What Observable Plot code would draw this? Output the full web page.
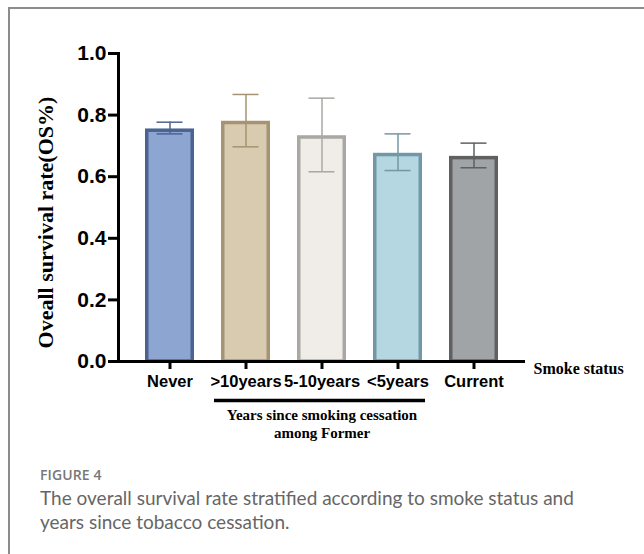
<!DOCTYPE html>
<html>
<head>
<meta charset="utf-8">
<script src="https://cdn.jsdelivr.net/npm/d3@7"></script>
<script src="https://cdn.jsdelivr.net/npm/@observablehq/plot@0.6"></script>
<style>
  html, body { margin: 0; padding: 0; background: #fff; }
  #page { position: relative; width: 644px; height: 554px; overflow: hidden; background: #fff; }
  #card { position: absolute; left: 8px; top: 7px; right: -4px; bottom: -4px;
          border-left: 2px solid #8c8c8c; border-top: 2px solid #8c8c8c; }
  #chart { position: absolute; left: 0; top: 0; }
  #fig { position: absolute; left: 40px; top: 465px; font-family: "Open Sans", Lato, sans-serif;
         font-size: 14px; font-weight: 600; color: #777; letter-spacing: 0.1px; }
  #cap { position: absolute; left: 40px; top: 486px; width: 548px; font-family: Lato, "Open Sans", sans-serif;
         font-size: 19px; line-height: 24px; color: #666; }
</style>
</head>
<body>
<div id="page">
  <div id="card"></div>
  <div id="chart"></div>
  <div id="fig">FIGURE 4</div>
  <div id="cap">The overall survival rate stratified according to smoke status and years since tobacco cessation.</div>
</div>
<script>
// Overall survival by smoking status, with error bars
const categories = ["Never", ">10years", "5-10years", "<5years", "Current"];
const survival   = [0.755, 0.78, 0.733, 0.676, 0.666];
const errLow     = [0.739, 0.697, 0.616, 0.620, 0.629];
const errHigh    = [0.777, 0.867, 0.855, 0.739, 0.709];
const fills      = ["#8da6d1", "#d9cbb0", "#f0ede8", "#b4d7e1", "#a1a4a7"];
const strokes    = ["#4a6393", "#a59371", "#aaa8a4", "#7398a5", "#5e6062"];
const yTicks     = [0, 0.2, 0.4, 0.6, 0.8, 1.0];

const rows = categories.map((c, i) => ({
  cat: c, v: survival[i], lo: errLow[i], hi: errHigh[i], fill: fills[i], stroke: strokes[i]
}));

const sans = "'Liberation Sans', Arial, sans-serif";
const serif = "'Liberation Serif', 'Times New Roman', serif";

const chart = Plot.plot({
  width: 644,
  height: 450,
  marginLeft: 118,
  marginRight: 119,
  marginTop: 53,
  marginBottom: 89,
  style: { background: "transparent", overflow: "visible" },
  x: { domain: categories, padding: 0.355, label: null },
  y: { domain: [0, 1], label: null },
  marks: [
    Plot.barY(rows, {
      x: "cat", y: "v", fill: "fill", stroke: "stroke", strokeWidth: 3.5,
      insetLeft: 1.75, insetRight: 1.75, insetTop: 1.75
    }),
    Plot.ruleX(rows, { x: "cat", y1: "lo", y2: "hi", stroke: "stroke", strokeWidth: 1.5 }),
    Plot.tickY(rows, { x: "cat", y: "lo", stroke: "stroke", strokeWidth: 1.5, insetLeft: 11.5, insetRight: 11.5 }),
    Plot.tickY(rows, { x: "cat", y: "hi", stroke: "stroke", strokeWidth: 1.5, insetLeft: 11.5, insetRight: 11.5 }),
    Plot.frame({ anchor: "left", stroke: "#000", strokeWidth: 3 }),
    Plot.ruleY([0], { stroke: "#000", strokeWidth: 3 }),
    Plot.axisY({
      ticks: yTicks, tickSize: 10, tickPadding: 2, strokeWidth: 3,
      tickFormat: d3.format(".1f"), fontSize: 21, fontWeight: "bold", fontFamily: sans, fill: "#000", label: null
    }),
    Plot.axisX({
      tickSize: 8, tickPadding: 6, strokeWidth: 3,
      fontSize: 16.5, fontWeight: "bold", fontFamily: sans, fill: "#000", label: null
    }),
    Plot.text(["Oveall survival rate(OS%)"], {
      frameAnchor: "left", textAnchor: "middle", rotate: -90, dx: -73, dy: 15,
      fontSize: 22, fontWeight: "bold", fontFamily: serif, fill: "#000"
    }),
    Plot.text(["Smoke status"], {
      frameAnchor: "bottom-right", textAnchor: "start", dx: 8, dy: 12,
      fontSize: 16, fontWeight: "bold", fontFamily: serif, fill: "#000"
    }),
    // bracket grouping the former-smoker categories
    Plot.ruleY([0], {
      x1: () => ">10years", x2: () => "<5years", dy: 39,
      insetLeft: -7, insetRight: -3, stroke: "#000", strokeWidth: 3.5
    }),
    Plot.text(["Years since smoking cessation\namong Former"], {
      x: () => "5-10years", y: () => 0, dy: 46, lineAnchor: "top", lineHeight: 1.2,
      fontSize: 15, fontWeight: "bold", fontFamily: serif, fill: "#000"
    })
  ]
});

document.getElementById("chart").appendChild(chart);
</script>
</body>
</html>
